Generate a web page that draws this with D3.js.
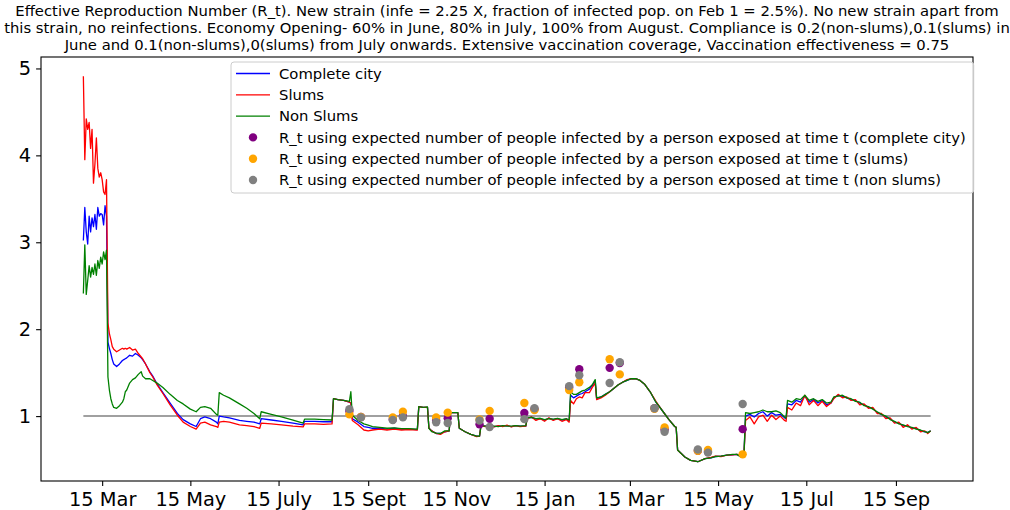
<!DOCTYPE html>
<html><head><meta charset="utf-8">
<script src="https://cdn.jsdelivr.net/npm/d3@7"></script>
<style>body{margin:0;background:#fff} svg{display:block} text{font-family:"DejaVu Sans",sans-serif}</style>
</head><body><svg id="chart" width="1010" height="510"></svg>
<script>
// ---------- data ----------
const startDate = "2020-03-02"; // day 0
const days = [
  0,1,2,3,4,5,6,7,8,9, 10,11,12,13,14,15,16,
  17,18,19,20,21,23,25,27,28,29, 30,32,34,36,38,40,41,43,46,48, 51,55,60,65,69,74,78,81,84,88, 92,93,94,
  97,101,108,113,118,122,123,130,137,145, 152,153,160,166,172,173,176,180,184,185, 186,190,194,197,200,205,210,215,220,225, 231,
  232,235,238,239,241,244,247,250,253,254, 259,260,264,268,272,274,275,278,281,284, 287,290,293,296,299,302,306,
  307,310,313,316,319,322,325,328,331,334, 336,337,339,341,343,345,347,350,352,354, 355,358,361,364,367,370,373,376,379,382,
  385,388,392,396,401,405,409,410,411,416, 420,425,430,434,437,441,445,449,452,454, 456,457,
  458,461,464,467,470,473,476,479,482,485, 486,487,490,493,496,499,502,505,508,511, 514,517,519,522,525,528,531,534,537,540,
  543,546,549,552,555,558,561,564,567,570, 573,576,579,582,584,586
];
// Complete city
const rCity = [
  3.02,3.40,3.12,2.98,3.30,3.12,3.28,3.18,3.32,3.15, 3.40,3.30,3.33,3.32,3.20,3.42,3.30,
  1.85,1.78,1.72,1.65,1.60,1.57,1.60,1.64,1.65,1.66, 1.67,1.70,1.69,1.72,1.70,1.67,1.65,1.60,1.51,1.46, 1.37,1.27,1.15,1.03,0.96,0.91,0.88,0.97,0.99,0.97, 0.93,0.91,1.00,
  0.99,0.98,0.95,0.94,0.93,0.91,0.97,0.955,0.94,0.92, 0.90,0.94,0.94,0.935,0.935,1.20,1.19,1.18,1.16,1.15, 0.97,0.93,0.88,0.87,0.86,0.86,0.85,0.86,0.85,0.85, 0.845,
  1.11,1.10,1.10,0.86,0.83,0.80,0.80,0.82,0.83,1.04, 1.04,0.86,0.82,0.79,0.77,0.77,0.89,0.885,0.89,0.88, 0.885,0.885,0.89,0.88,0.89,0.885,0.885,
  0.98,0.985,0.965,0.97,0.955,0.975,0.96,0.97,0.955,0.965, 0.95,1.24,1.21,1.23,1.25,1.26,1.28,1.31,1.35,1.41, 1.20,1.22,1.25,1.28,1.32,1.36,1.39,1.41,1.43,1.43,
  1.41,1.37,1.28,1.16,1.05,0.96,0.88,0.87,0.61,0.53, 0.49,0.475,0.51,0.52,0.535,0.54,0.55,0.555,0.56,0.54, 0.55,0.60,
  1.00,1.02,0.99,1.03,1.05,1.00,1.04,1.01,1.02,0.98, 0.97,1.14,1.13,1.18,1.16,1.23,1.16,1.19,1.15,1.18, 1.13,1.15,1.21,1.24,1.23,1.21,1.19,1.18,1.15,1.13,
  1.10,1.09,1.04,1.02,0.99,0.97,0.93,0.92,0.89,0.89, 0.86,0.86,0.83,0.82,0.81,0.83
];
// Slums
const rSlums = [
  4.91,3.95,4.42,4.30,4.38,4.08,4.30,3.68,3.90,4.20, 3.85,3.75,3.80,3.72,3.58,3.55,3.72,
  2.07,1.95,1.88,1.80,1.77,1.74,1.76,1.78,1.77,1.78, 1.77,1.79,1.76,1.77,1.72,1.68,1.66,1.60,1.50,1.45, 1.36,1.26,1.13,1.01,0.93,0.88,0.85,0.92,0.93,0.90, 0.88,0.87,0.93,
  0.94,0.93,0.90,0.89,0.88,0.86,0.92,0.91,0.90,0.885, 0.875,0.91,0.91,0.905,0.91,1.20,1.19,1.18,1.16,1.15, 0.95,0.90,0.84,0.83,0.84,0.85,0.84,0.85,0.84,0.845, 0.84,
  1.11,1.10,1.10,0.86,0.83,0.80,0.79,0.82,0.83,1.04, 1.04,0.86,0.82,0.79,0.765,0.77,0.89,0.88,0.895,0.875, 0.89,0.88,0.895,0.875,0.89,0.88,0.885,
  0.97,0.99,0.95,0.97,0.94,0.98,0.95,0.97,0.94,0.96, 0.93,1.18,1.14,1.20,1.22,1.21,1.27,1.27,1.33,1.38, 1.19,1.21,1.24,1.28,1.32,1.36,1.39,1.42,1.43,1.43,
  1.41,1.37,1.28,1.17,1.05,0.96,0.88,0.87,0.61,0.53, 0.49,0.475,0.51,0.525,0.54,0.535,0.55,0.555,0.56,0.545, 0.55,0.59,
  0.95,0.99,0.91,0.99,1.01,0.94,1.01,0.96,1.00,0.95, 0.94,1.10,1.07,1.15,1.12,1.24,1.13,1.18,1.12,1.17, 1.11,1.15,1.20,1.25,1.21,1.22,1.18,1.19,1.13,1.14,
  1.09,1.10,1.03,1.03,0.97,0.98,0.92,0.93,0.87,0.90, 0.85,0.87,0.82,0.83,0.80,0.83
];
// Non slums
const rNonSlums = [
  2.41,2.97,2.40,2.56,2.73,2.60,2.71,2.63,2.75,2.62, 2.79,2.70,2.83,2.75,2.89,2.80,2.91,
  1.45,1.30,1.20,1.14,1.10,1.09,1.12,1.16,1.20,1.28, 1.30,1.38,1.42,1.44,1.48,1.51,1.46,1.43,1.43,1.41, 1.38,1.33,1.25,1.18,1.14,1.08,1.05,1.10,1.11,1.09, 1.02,1.01,1.27,
  1.24,1.21,1.14,1.09,1.03,0.97,1.05,1.02,0.99,0.955, 0.92,0.965,0.965,0.96,0.955,1.20,1.19,1.18,1.17,1.28, 1.01,0.95,0.91,0.895,0.88,0.87,0.86,0.865,0.855,0.855, 0.85,
  1.11,1.10,1.105,0.86,0.82,0.805,0.80,0.83,0.83,1.04, 1.04,0.86,0.82,0.79,0.77,0.77,0.89,0.885,0.89,0.885, 0.88,0.89,0.885,0.885,0.89,0.885,0.89,
  0.98,0.985,0.97,0.975,0.96,0.97,0.965,0.975,0.96,0.97, 0.955,1.28,1.25,1.25,1.27,1.29,1.30,1.33,1.36,1.42, 1.21,1.22,1.25,1.28,1.32,1.36,1.39,1.41,1.43,1.43,
  1.41,1.37,1.28,1.16,1.05,0.96,0.88,0.87,0.61,0.53, 0.49,0.475,0.51,0.52,0.535,0.54,0.55,0.56,0.56,0.54, 0.55,0.60,
  1.04,1.03,1.04,1.05,1.07,1.05,1.05,1.06,1.04,0.99, 0.98,1.18,1.16,1.20,1.19,1.24,1.18,1.20,1.17,1.19, 1.15,1.16,1.22,1.23,1.24,1.21,1.20,1.17,1.16,1.12,
  1.11,1.08,1.05,1.02,1.00,0.96,0.94,0.91,0.90,0.88, 0.87,0.85,0.84,0.82,0.81,0.83
];
// expected-infections R_t points
const dotDays     = [184,192,214,221,244,252,274,281,305,312,336,343,364,371,395,402,425,432,456];
const dotCity     = [1.06,0.99,0.96,1.00,0.95,0.975,0.905,0.97,1.035,1.08,1.33,1.54,1.555,1.61,1.09,0.845,0.60,0.59,0.85];
const dotSlums    = [1.02,0.99,0.985,1.05,0.985,1.04,0.96,1.06,1.15,1.07,1.30,1.39,1.655,1.48,1.085,0.87,0.60,0.61,0.56];
const dotNonSlums = [1.08,0.985,0.955,0.985,0.93,0.92,0.95,0.875,0.965,1.09,1.345,1.47,1.38,1.62,1.09,0.82,0.615,0.58,1.14];

const tickDates  = ["2020-03-15","2020-05-15","2020-07-15","2020-09-15","2020-11-15","2021-01-15","2021-03-15","2021-05-15","2021-07-15","2021-09-15"];
const tickLabels = ["15 Mar","15 May","15 July","15 Sept","15 Nov","15 Jan","15 Mar","15 May","15 Jul","15 Sep"];
const yTicks = [1,2,3,4,5];
const referenceLevel = 1;
const titleLines = [
  "Effective Reproduction Number (R_t). New strain (infe = 2.25 X, fraction of infected pop. on Feb 1 = 2.5%). No new strain apart from",
  "this strain, no reinfections. Economy Opening- 60% in June, 80% in July, 100% from August. Compliance is 0.2(non-slums),0.1(slums) in",
  "June and 0.1(non-slums),0(slums) from July onwards. Extensive vaccination coverage, Vaccination effectiveness = 0.75"
];
const lineLabels = ["Complete city","Slums","Non Slums"];
const dotLabels = [
  "R_t using expected number of people infected by a person exposed at time t (complete city)",
  "R_t using expected number of people infected by a person exposed at time t (slums)",
  "R_t using expected number of people infected by a person exposed at time t (non slums)"
];

// ---------- drawing ----------
const W = 1010, H = 510;
const M = {left: 41, right: 973, top: 57, bottom: 481};
const FS = 14.8;
const svg = d3.select("#chart");
svg.append("rect").attr("width", W).attr("height", H).attr("fill", "#fff");

const t0 = d3.utcParse("%Y-%m-%d")(startDate).getTime();
const toDate = d => new Date(t0 + d * 864e5);
const parse = d3.utcParse("%Y-%m-%d");

const xExt = d3.extent(days), xPad = (xExt[1] - xExt[0]) * 0.05;
const x = d3.scaleUtc().domain([toDate(xExt[0] - xPad), toDate(xExt[1] + xPad)]).range([M.left, M.right]);
const allV = rCity.concat(rSlums, rNonSlums, dotCity, dotSlums, dotNonSlums);
const yExt = d3.extent(allV), yPad = (yExt[1] - yExt[0]) * 0.05;
const y = d3.scaleLinear().domain([yExt[0] - yPad, yExt[1] + yPad]).range([M.bottom, M.top]);

// title
const title = svg.append("text").attr("text-anchor", "middle").attr("font-size", FS).attr("fill", "#000");
titleLines.forEach((l, i) => title.append("tspan").attr("x", (M.left + M.right) / 2).attr("y", 15.5 + i * 17).text(l));

const plot = svg.append("g");
svg.append("clipPath").attr("id", "clip").append("rect").attr("x", M.left).attr("y", M.top).attr("width", M.right - M.left).attr("height", M.bottom - M.top);
plot.attr("clip-path", "url(#clip)");

// reference line at 1
plot.append("line")
  .attr("x1", x(toDate(xExt[0]))).attr("x2", x(toDate(xExt[1])))
  .attr("y1", y(referenceLevel)).attr("y2", y(referenceLevel))
  .attr("stroke", "gray").attr("stroke-width", 1.5);

const series = [
  {vals: rCity, color: "blue"},
  {vals: rSlums, color: "red"},
  {vals: rNonSlums, color: "green"}
];
const line = d3.line().x(d => x(toDate(d[0]))).y(d => y(d[1]));
series.forEach(s => {
  plot.append("path").datum(days.map((d, i) => [d, s.vals[i]]))
    .attr("d", line).attr("fill", "none").attr("stroke", s.color)
    .attr("stroke-width", 1.3).attr("stroke-linejoin", "round");
});

const dotSeries = [
  {vals: dotCity, color: "purple"},
  {vals: dotSlums, color: "orange"},
  {vals: dotNonSlums, color: "gray"}
];
dotSeries.forEach(s => {
  plot.append("g").selectAll("circle").data(dotDays.map((d, i) => [d, s.vals[i]])).join("circle")
    .attr("cx", d => x(toDate(d[0]))).attr("cy", d => y(d[1])).attr("r", 4.2).attr("fill", s.color);
});

// axes
const xAxis = d3.axisBottom(x).tickValues(tickDates.map(parse)).tickFormat((d, i) => tickLabels[i]).tickSize(4.9).tickPadding(6);
const gx = svg.append("g").attr("transform", `translate(0,${M.bottom})`).call(xAxis);
gx.select(".domain").remove();
gx.selectAll("text").attr("font-size", 19.4).attr("font-family", "DejaVu Sans").attr("fill", "#000");
gx.selectAll("line").attr("stroke", "#000").attr("stroke-width", 1.1);

const yAxis = d3.axisLeft(y).tickValues(yTicks).tickFormat(d3.format("d")).tickSize(4.9).tickPadding(5);
const gy = svg.append("g").attr("transform", `translate(${M.left},0)`).call(yAxis);
gy.select(".domain").remove();
gy.selectAll("text").attr("font-size", 19.4).attr("font-family", "DejaVu Sans").attr("fill", "#000");
gy.selectAll("line").attr("stroke", "#000").attr("stroke-width", 1.1);

svg.append("rect").attr("x", M.left).attr("y", M.top).attr("width", M.right - M.left).attr("height", M.bottom - M.top)
  .attr("fill", "none").attr("stroke", "#000").attr("stroke-width", 1.1);

// legend
const lg = svg.append("g").attr("transform", "translate(231,62)");
const bg = lg.append("rect").attr("rx", 3).attr("ry", 3).attr("fill", "#fff").attr("fill-opacity", 0.8)
  .attr("stroke", "#cccccc").attr("stroke-width", 1);
const rowY = i => 11.5 + i * 21.3;
let maxW = 0;
lineLabels.forEach((l, i) => {
  lg.append("line").attr("x1", 5).attr("x2", 39).attr("y1", rowY(i)).attr("y2", rowY(i))
    .attr("stroke", series[i].color).attr("stroke-width", 1.3);
  const t = lg.append("text").attr("x", 48).attr("y", rowY(i)).attr("dy", "0.35em").attr("font-size", FS).text(l);
  maxW = Math.max(maxW, t.node().getComputedTextLength());
});
dotLabels.forEach((l, j) => {
  const i = j + 3;
  lg.append("circle").attr("cx", 22).attr("cy", rowY(i)).attr("r", 4.2).attr("fill", dotSeries[j].color);
  const t = lg.append("text").attr("x", 48).attr("y", rowY(i)).attr("dy", "0.35em").attr("font-size", FS).text(l);
  maxW = Math.max(maxW, t.node().getComputedTextLength());
});
bg.attr("x", 0).attr("y", 0).attr("width", 48 + maxW + 8).attr("height", 131);
</script></body></html>
